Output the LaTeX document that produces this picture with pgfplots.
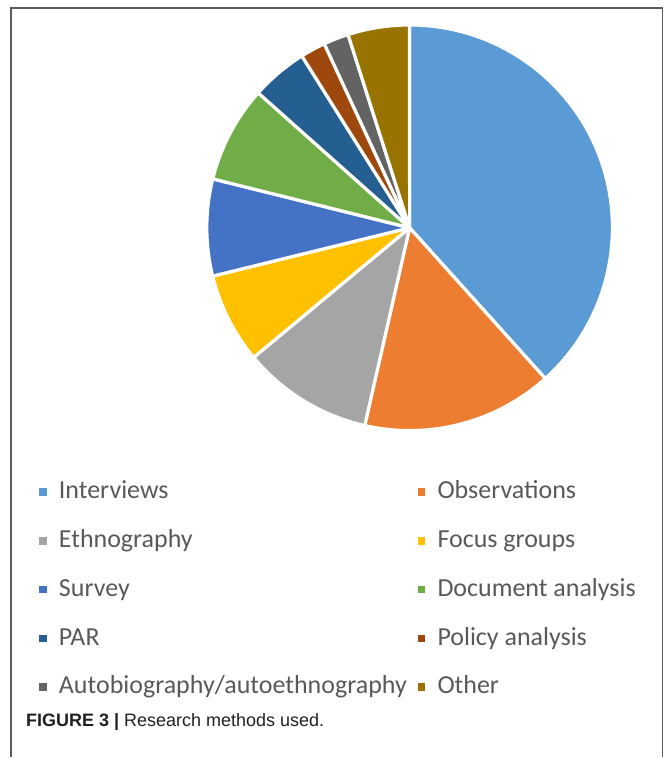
\documentclass[border=0pt]{standalone}
\usepackage{pgfplots}
\pgfplotsset{compat=1.18}
\usepackage{pgfplotstable}
\usepackage{fontspec}
\setmainfont{Carlito}
\newfontfamily\capfont{Liberation Sans}
\definecolor{s0}{HTML}{5B9BD5}
\definecolor{s1}{HTML}{ED7D31}
\definecolor{s2}{HTML}{A5A5A5}
\definecolor{s3}{HTML}{FFC000}
\definecolor{s4}{HTML}{4472C4}
\definecolor{s5}{HTML}{70AD47}
\definecolor{s6}{HTML}{255E91}
\definecolor{s7}{HTML}{9E480E}
\definecolor{s8}{HTML}{636363}
\definecolor{s9}{HTML}{997300}
\definecolor{legtext}{HTML}{595959}
\definecolor{framec}{HTML}{5A5A5A}
\definecolor{captext}{HTML}{231F20}

\pgfplotstableread{
method value
Interviews 38.3
Observations 15.2
Ethnography 10.4
FocusGroups 7.2
Survey 7.7
DocumentAnalysis 7.7
PAR 4.5
PolicyAnalysis 2.0
Autobiography 2.0
Other 4.9
}\methods

\begin{document}
\begin{tikzpicture}
% 1 px of the reference = 0.75pt; y runs downward as negative
\path (0pt,0pt) rectangle (500.25pt,-568.5pt);
\draw[framec, line width=1.1pt] (8.25pt,-568.5pt) -- (8.25pt,-6pt) -- (497.25pt,-6pt) -- (497.25pt,-568.5pt);

% cumulative angles, clockwise from 12 o'clock
\def\total{0}
\pgfplotsforeachungrouped \i in {0,...,9}{%
  \pgfplotstablegetelem{\i}{value}\of\methods
  \pgfmathsetmacro\total{\total+\pgfplotsretval}%
}
\def\curang{90}
\pgfplotsforeachungrouped \i in {0,...,9}{%
  \pgfplotstablegetelem{\i}{value}\of\methods
  \pgfmathsetmacro\nextang{\curang-\pgfplotsretval/\total*360}%
  \expandafter\xdef\csname angS\i\endcsname{\curang}%
  \expandafter\xdef\csname angE\i\endcsname{\nextang}%
  \let\curang\nextang
}

\begin{axis}[
  at={(307.5pt,-171pt)}, anchor=center,
  scale only axis, width=304.5pt, height=304.5pt,
  xmin=-1, xmax=1, ymin=-1, ymax=1,
  hide axis, clip=false,
  legend columns=2,
  legend cell align=left,
  legend image code/.code={\fill[#1] (0pt,-2.9pt) rectangle (5.8pt,2.9pt);},
  legend style={draw=none, fill=none, inner sep=0pt, outer sep=0pt,
    at={(-0.4138,-0.118)}, anchor=north west,
    font=\fontsize{19.5pt}{23pt}\selectfont, text=legtext,
    nodes={inner sep=0pt, text height=15pt, text depth=5pt},
    row sep=16.7pt,
    /tikz/every odd column/.append style={column sep=9.2pt},
    /tikz/every even column/.append style={column sep=8pt},
  },
]
\pgfplotsinvokeforeach{0,...,9}{%
  \fill[s#1, draw=white, line width=2.4pt, line join=round]
    (axis cs:0,0) -- (axis cs:{cos(\csname angS#1\endcsname)},{sin(\csname angS#1\endcsname)})
    arc[start angle=\csname angS#1\endcsname, end angle=\csname angE#1\endcsname, radius=152.25pt] -- cycle;
}
\addlegendimage{fill=s0, draw=none}\addlegendentry{Interviews}
\addlegendimage{fill=s1, draw=none}\addlegendentry{Observations}
\addlegendimage{fill=s2, draw=none}\addlegendentry{Ethnography}
\addlegendimage{fill=s3, draw=none}\addlegendentry{Focus groups}
\addlegendimage{fill=s4, draw=none}\addlegendentry{Survey}
\addlegendimage{fill=s5, draw=none}\addlegendentry{Document analysis}
\addlegendimage{fill=s6, draw=none}\addlegendentry{PAR}
\addlegendimage{fill=s7, draw=none}\addlegendentry{Policy analysis}
\addlegendimage{fill=s8, draw=none}\addlegendentry{Autobiography/autoethnography}
\addlegendimage{fill=s9, draw=none}\addlegendentry{Other}
\end{axis}

\node[anchor=base west, inner sep=0pt, text=captext,
      font=\capfont\fontsize{13.5pt}{16pt}\selectfont] at (19.5pt,-545.25pt)
  {\textbf{FIGURE 3 |} Research methods used.};
\end{tikzpicture}
\end{document}
